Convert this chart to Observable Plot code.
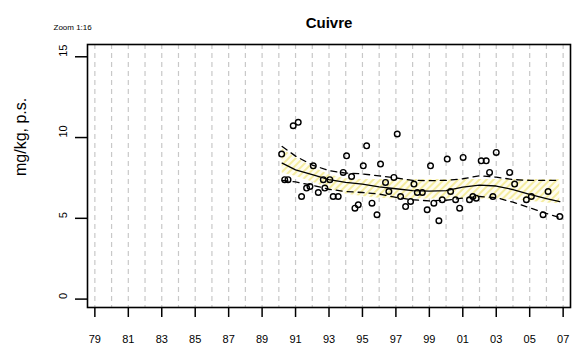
<!DOCTYPE html>
<html><head><meta charset="utf-8">
<script src="https://cdn.jsdelivr.net/npm/d3@7"></script>
<script src="https://cdn.jsdelivr.net/npm/@observablehq/plot@0.6"></script>
<style>body{margin:0;background:#fff;} svg{display:block;}</style>
</head><body><div id="chart"></div>
<script>
const title = "Cuivre";
const zoomNote = "Zoom 1:16";
const yLabel = "mg/kg, p.s.";
const gridYears = d3.range(1979, 2008);
const tickYears = d3.range(1979, 2008, 2);
const yTicks = [0, 5, 10, 15];

const pointYears = [1990.17,1990.35,1990.55,1990.86,1991.16,1991.36,1991.66,1991.86,1992.06,1992.36,1992.66,1992.75,1993.05,1993.25,1993.55,1993.85,1994.05,1994.35,1994.55,1994.75,1995.05,1995.25,1995.57,1995.87,1996.08,1996.38,1996.58,1996.88,1997.08,1997.28,1997.58,1997.88,1998.08,1998.28,1998.58,1998.87,1999.07,1999.27,1999.57,1999.77,2000.07,2000.27,2000.57,2000.81,2001.02,2001.4,2001.6,2001.8,2002.1,2002.4,2002.6,2002.8,2003.0,2003.8,2004.1,2004.8,2005.1,2005.8,2006.1,2006.8];
const pointValues = [8.98,7.39,7.39,10.73,10.94,6.35,6.87,6.97,8.25,6.60,7.39,6.87,7.39,6.35,6.35,7.84,8.87,7.59,5.63,5.84,8.25,9.49,5.94,5.22,8.36,7.22,6.66,7.53,10.22,6.35,5.73,6.04,7.12,6.60,6.60,5.53,8.25,5.94,4.85,6.15,8.67,6.66,6.15,5.63,8.77,6.15,6.35,6.25,8.56,8.56,7.84,6.35,9.08,7.84,7.12,6.15,6.35,5.22,6.66,5.11];

const fitYears   = [1990.2,1991,1992,1993,1994,1995,1996,1997,1998,1999,2000,2001,2002,2003,2004,2005,2006,2006.8];
const fitValues  = [8.42,8.0,7.70,7.40,7.22,7.12,6.95,6.83,6.72,6.68,6.72,6.93,7.05,7.0,6.78,6.48,6.22,6.03];
const upperValues= [9.45,8.85,8.3,7.95,7.8,7.75,7.63,7.5,7.35,7.33,7.35,7.45,7.63,7.55,7.4,7.35,7.35,7.35];
const lowerValues= [7.35,7.25,7.05,6.8,6.66,6.6,6.5,6.3,6.15,6.08,6.12,6.25,6.35,6.28,6.0,5.65,5.3,5.05];
const bandUpper  = [9.3,8.75,8.2,7.7,7.45,7.4,7.4,7.4,7.4,7.4,7.4,7.4,7.4,7.4,7.4,7.4,7.4,7.4];
const bandLower  = [7.8,7.6,7.25,6.85,6.5,6.35,6.25,6.2,6.2,6.2,6.2,6.2,6.2,6.2,6.15,6.05,5.95,5.9];

const points = pointYears.map((x, i) => ({x, y: pointValues[i]}));
const fit = fitYears.map((x, i) => ({x, fit: fitValues[i], up: upperValues[i], lo: lowerValues[i], bu: bandUpper[i], bl: bandLower[i]}));

const svg = Plot.plot({
  width: 587, height: 356,
  marginLeft: 87, marginRight: 17, marginTop: 44, marginBottom: 49,
  style: {fontFamily: "'Liberation Sans', Arial, sans-serif", fontSize: "11px", color: "black", background: "white"},
  x: {domain: [1978.56, 2007.44]},
  y: {domain: [-0.52, 15.76]},
  marks: [
    Plot.ruleX(gridYears, {stroke: "#c8c8c8", strokeDasharray: "5,4", strokeWidth: 1.2}),
    Plot.areaY(fit, {x: "x", y1: "bl", y2: "bu", fill: "url(#hatch)"}),
    Plot.frame({stroke: "black", strokeWidth: 1.6}),
    Plot.axisX(tickYears, {tickSize: 10, tickPadding: 18, strokeWidth: 1.5, fontSize: 11, label: null,
      tickFormat: d => String(d % 100).padStart(2, "0")}),
    Plot.axisY(yTicks, {tickSize: 12, strokeWidth: 1.5, label: null, tickFormat: () => ""}),
    Plot.text(yTicks, {y: d => d, text: d => String(d), frameAnchor: "left", dx: -24, rotate: -90, fontSize: 11}),
    Plot.text([yLabel], {frameAnchor: "left", dx: -67, rotate: -90, fontSize: 16}),
    Plot.text([title], {frameAnchor: "top", dy: -27, fontWeight: "bold", fontSize: 15}),
    Plot.text([zoomNote], {frameAnchor: "top-left", dx: -34, dy: -20, textAnchor: "start", fontSize: 8}),
    Plot.line(fit, {x: "x", y: "up", stroke: "black", strokeWidth: 1.3, strokeDasharray: "6,5"}),
    Plot.line(fit, {x: "x", y: "lo", stroke: "black", strokeWidth: 1.3, strokeDasharray: "6,5"}),
    Plot.line(fit, {x: "x", y: "fit", stroke: "black", strokeWidth: 1.3}),
    Plot.dot(points, {x: "x", y: "y", r: 2.8, stroke: "black", strokeWidth: 1.4, fill: "none"})
  ]
});

const defs = d3.select(svg).insert("defs", ":first-child");
const pat = defs.append("pattern").attr("id", "hatch").attr("patternUnits", "userSpaceOnUse")
  .attr("width", 5).attr("height", 5).attr("patternTransform", "rotate(45)");
pat.append("rect").attr("width", 5).attr("height", 5).attr("fill", "#fffdf0");
pat.append("rect").attr("width", 2).attr("height", 5).attr("fill", "#f5eda0");

document.getElementById("chart").appendChild(svg);
</script>
</body></html>
